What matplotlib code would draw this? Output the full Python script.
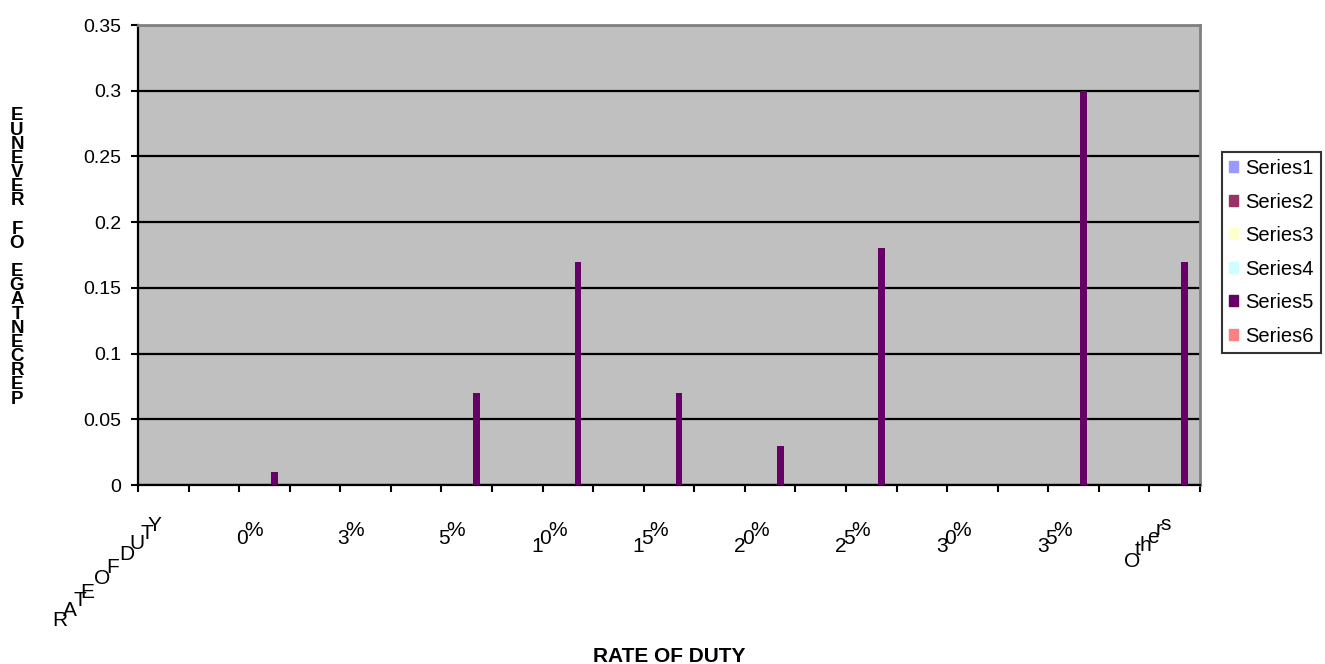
import numpy as np
import matplotlib.pyplot as plt
from matplotlib.textpath import TextToPath
from matplotlib.font_manager import FontProperties

plt.rcParams["font.family"] = ["Liberation Sans", "DejaVu Sans"]

# categories (odd slots carry no visible label in the source chart)
categories = ["RATE OF DUTY", "", "0%", "", "3%", "", "5%", "", "10%", "",
              "15%", "", "20%", "", "25%", "", "30%", "", "35%", "", "Others"]
series_names = ["Series1", "Series2", "Series3", "Series4", "Series5", "Series6"]
series_colors = ["#9999FF", "#993366", "#FFFFCC", "#CCFFFF", "#660066", "#FF8080"]
series5 = [0, 0, 0.01, 0, 0, 0, 0.07, 0, 0.17, 0,
           0.07, 0, 0.03, 0, 0.18, 0, 0, 0, 0.30, 0, 0.17]
series_values = [[0] * len(categories)] * 4 + [series5] + [[0] * len(categories)]
yticks = [0, 0.05, 0.1, 0.15, 0.2, 0.25, 0.3, 0.35]
ytick_labels = ["0", "0.05", "0.1", "0.15", "0.2", "0.25", "0.3", "0.35"]
xtitle = "RATE OF DUTY"
ytitle = "PERCENTAGE OF REVENUE"

W, H = 1325, 664
fig = plt.figure(figsize=(W / 100, H / 100), dpi=100)
ax = fig.add_axes([138 / W, (H - 485) / H, (1200 - 138) / W, (485 - 25) / H])
ax.set_facecolor("#C0C0C0")

n = len(categories)
x = np.arange(n)
bw = 1 / 7.5  # excel gap width 150%
handles = []
for j, (name, col, vals) in enumerate(zip(series_names, series_colors, series_values)):
    pos = x - 0.5 + 0.75 * bw + (j + 0.5) * bw
    ax.bar(pos, vals, width=bw, color=col, linewidth=0, zorder=3)
    handles.append(plt.Rectangle((0, 0), 1, 1, color=col))

ax.set_xlim(-0.5, n - 0.5)
ax.set_ylim(0, 0.35)
ax.set_yticks(yticks)
ax.set_yticklabels(ytick_labels, fontsize=14)
ax.yaxis.grid(True, color="black", linewidth=1.6, zorder=1)
ax.set_axisbelow(True)

ax.set_xticks(np.arange(n + 1) - 0.5)
ax.set_xticklabels([])
ax.tick_params(axis="both", which="major", direction="out", length=5, width=1.5, color="black")
ax.tick_params(axis="y", pad=7)

ax.spines["top"].set_color("#808080")
ax.spines["top"].set_linewidth(2)
ax.spines["right"].set_color("#808080")
ax.spines["right"].set_linewidth(2)
ax.spines["left"].set_linewidth(1.6)
ax.spines["bottom"].set_linewidth(1.6)

# category labels: upright glyphs laid out along a 45 degree baseline
tick_size = 15
ttp = TextToPath()
prop = FontProperties(family="Liberation Sans", size=tick_size)


def advance(ch):
    w2 = ttp.get_text_width_height_descent("a" + ch + "a", prop, ismath=False)[0]
    w0 = ttp.get_text_width_height_descent("aa", prop, ismath=False)[0]
    return w2 - w0


end_dx, end_dy = -5, -27  # points from category centre at y=0
for i, lab in enumerate(categories):
    if not lab:
        continue
    widths = [advance(c) for c in lab]
    total = sum(widths)
    s = 0
    for ch, w in zip(lab, widths):
        back = (total - s) / np.sqrt(2)
        if ch != " ":
            ax.annotate(ch, xy=(i, 0), xycoords="data",
                        xytext=(end_dx - back, end_dy - back), textcoords="offset points",
                        ha="left", va="baseline", fontsize=tick_size, annotation_clip=False)
        s += w

fig.text(669 / W, 1 - 657 / H, xtitle, fontsize=15, fontweight="bold",
         ha="center", va="center")

# stacked vertical axis title (letters upright, read bottom to top)
for k, ch in enumerate(ytitle):
    ypix = 399 - k * 14.15
    fig.text(17 / W, 1 - ypix / H, ch, fontsize=13.5, fontweight="bold",
             ha="center", va="center")

leg = fig.legend(handles, series_names, loc="upper left",
                 bbox_to_anchor=(1222 / W, 1 - 152 / H), fontsize=14.5,
                 frameon=True, fancybox=False, handlelength=0.45, handleheight=0.45,
                 handletextpad=0.35, labelspacing=0.72, borderpad=0.35, borderaxespad=0)
leg.get_frame().set_edgecolor("black")
leg.get_frame().set_linewidth(1.5)

fig.savefig("out.png", dpi=100)
